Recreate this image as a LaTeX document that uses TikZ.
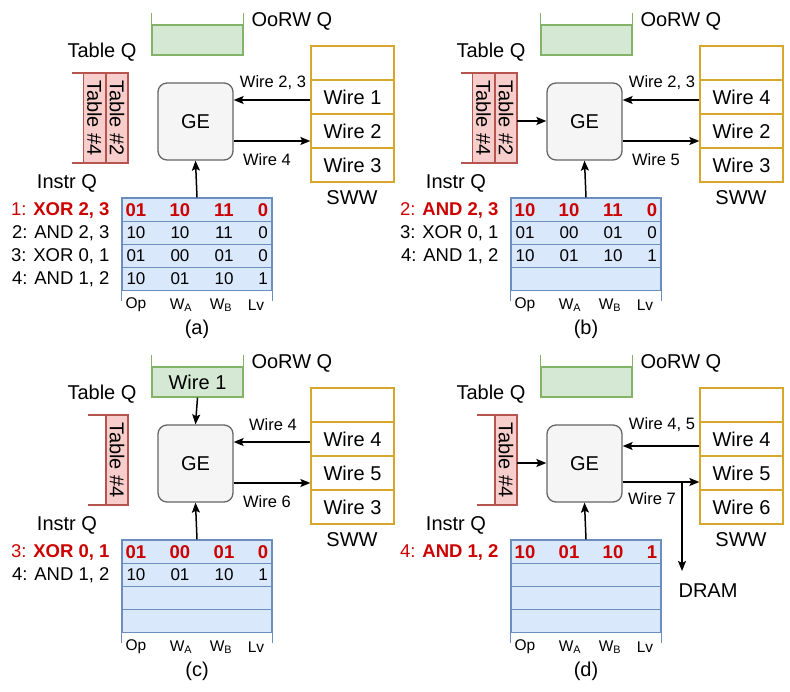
\documentclass[tikz,border=0pt]{standalone}
\usepackage{fontspec}
\setmainfont{Liberation Sans}
\usetikzlibrary{calc,arrows.meta}

\definecolor{hlred}{HTML}{CC0000}
\definecolor{oorwfill}{HTML}{D5E8D4}
\definecolor{oorwline}{HTML}{82B366}
\definecolor{tblfill}{HTML}{F8CECC}
\definecolor{tblline}{HTML}{B85450}
\definecolor{instrfill}{HTML}{DAE8FC}
\definecolor{instrline}{HTML}{6C8EBF}
\definecolor{swwline}{HTML}{D6A72A}

\newcommand{\instrvals}[7]{% name, y, op, wa, wb, lv, style
\node[val,#7] (#1op) at (136,#2) {#3};
\node[val,#7] (#1wa) at (180,#2) {#4};
\node[val,#7] (#1wb) at (224,#2) {#5};
\node[val,#7] (#1lv) at (263,#2) {#6};
}

\newcommand{\panelframe}[4]{% caption, sww1, sww2, sww3
\node[oorw] (oorw) at (197.5,40) {};
\draw[oorwline,line width=1.3pt] (oorw.north west) -- ++(0,-11);
\draw[oorwline,line width=1.3pt] (oorw.north east) -- ++(0,-11);
\node[big,anchor=west] (oorwq) at (248,21) {OoRW Q};
\node[big] (tblq) at (102,52) {Table Q};
\node[ge] (ge) at (195.5,121.5) {GE};
\foreach \i/\t in {0/{},1/{#2},2/{#3},3/{#4}}
  \node[sww] (s\i) at (352.5,63+34*\i) {\t};
\node[big] (swwq) at (352,198) {SWW};
\node[big] (instrq) at (67,183) {Instr Q};
\foreach \r in {0,...,3}
  \node[row] (i\r) at (197,209.6+23.2*\r) {};
\draw[instrline,line width=1.3pt] (i3.south west) -- ++(0,10);
\draw[instrline,line width=1.3pt] (i3.south east) -- ++(0,10);
\node[col] (cop) at (136,305) {Op};
\node[col] (cwa) at (181,305) {W\textsubscript{A}};
\node[col] (cwb) at (221,305) {W\textsubscript{B}};
\node[col] (clv) at (256,305) {Lv};
\node[big] (cap) at (197,329) {#1};
\draw[arr] (i0.north) -- (ge.south);
}

\begin{document}
\begin{tikzpicture}[x=1pt,y=-1pt]
%styles
\tikzset{
  big/.style={font=\fontsize{20}{22}\selectfont},
  small/.style={font=\fontsize{16.5}{18}\selectfont},
  lst/.style={font=\fontsize{18.5}{20}\selectfont,anchor=east},
  val/.style={font=\fontsize{17}{19}\selectfont},
  col/.style={font=\fontsize{15.5}{17}\selectfont},
  hot/.style={text=hlred,font=\fontsize{18.5}{20}\selectfont\bfseries},
  oorw/.style={draw=oorwline,fill=oorwfill,line width=1.3pt,minimum width=91pt,minimum height=30pt,inner sep=0pt,big},
  tbl/.style={draw=tblline,fill=tblfill,line width=1.3pt,rotate=-90,minimum width=90pt,minimum height=22pt,inner sep=0pt,big},
  bracket/.style={draw=tblline,line width=1.3pt},
  ge/.style={draw=black!60,fill=black!4,line width=1.3pt,rounded corners=9pt,minimum width=75pt,minimum height=77pt,big},
  sww/.style={draw=swwline,line width=1.3pt,minimum width=83pt,minimum height=34pt,big},
  row/.style={draw=instrline,fill=instrfill,line width=1.3pt,minimum width=150pt,minimum height=23.2pt,inner sep=0pt},
  arr/.style={-{Stealth[length=10pt,width=8pt,inset=2pt]},line width=1.5pt},
}
\useasboundingbox (0,0) rectangle (790,692);

%(a)
\begin{scope}[shift={(0,0)}]
\panelframe{(a)}{Wire 1}{Wire 2}{Wire 3}
\node[tbl] (t4) at (94.5,118) {Table \#4};
\node[tbl] (t2) at (117,118) {Table \#2};
\draw[bracket] (72,73) -- (83,73);
\draw[bracket] (72,163) -- (83,163);
\draw[arr] (s1.west |- 0,100) -- (ge.east |- 0,100);
\draw[arr] (ge.east |- 0,141) -- (s2.west |- 0,141);
\node[small] (w23) at (273,83) {Wire 2, 3};
\node[small] (w4) at (267,160) {Wire 4};
\node[lst] (l1) at (113,210) {\textcolor{hlred}{1:} \textcolor{hlred}{\bfseries XOR 2, 3}};
\node[lst] (l2) at (113,233) {2: AND 2, 3};
\node[lst] (l3) at (113,256) {3: XOR 0, 1};
\node[lst] (l4) at (113,279) {4: AND 1, 2};
\instrvals{v1}{210}{01}{10}{11}{0}{hot}
\instrvals{v2}{233}{10}{10}{11}{0}{}
\instrvals{v3}{256}{01}{00}{01}{0}{}
\instrvals{v4}{279}{10}{01}{10}{1}{}
\end{scope}

%(b)
\begin{scope}[shift={(389,0)}]
\panelframe{(b)}{Wire 4}{Wire 2}{Wire 3}
\node[tbl] (t4) at (94.5,118) {Table \#4};
\node[tbl] (t2) at (117,118) {Table \#2};
\draw[bracket] (72,73) -- (83,73);
\draw[bracket] (72,163) -- (83,163);
\coordinate (tout) at (128,121);
\draw[arr] (tout) -- (ge.west |- tout);
\draw[arr] (s1.west |- 0,100) -- (ge.east |- 0,100);
\draw[arr] (ge.east |- 0,141) -- (s2.west |- 0,141);
\node[small] (w23) at (273,83) {Wire 2, 3};
\node[small] (w5) at (267,160) {Wire 5};
\node[lst] (l2) at (113,210) {\textcolor{hlred}{2:} \textcolor{hlred}{\bfseries AND 2, 3}};
\node[lst] (l3) at (113,233) {3: XOR 0, 1};
\node[lst] (l4) at (113,256) {4: AND 1, 2};
\instrvals{v2}{210}{10}{10}{11}{0}{hot}
\instrvals{v3}{233}{01}{00}{01}{0}{}
\instrvals{v4}{256}{10}{01}{10}{1}{}
\end{scope}

%(c)
\begin{scope}[shift={(0,342)}]
\panelframe{(c)}{Wire 4}{Wire 5}{Wire 3}
\node[big] (ow1) at (oorw) {Wire 1};
\node[tbl] (t4) at (117,118) {Table \#4};
\draw[bracket] (88,73) -- (106,73);
\draw[bracket] (88,163) -- (106,163);
\draw[arr] (oorw.south) -- (ge.north);
\draw[arr] (s1.west |- 0,100) -- (ge.east |- 0,100);
\draw[arr] (ge.east |- 0,141) -- (s2.west |- 0,141);
\node[small] (w4) at (273,83) {Wire 4};
\node[small] (w6) at (267,160) {Wire 6};
\node[lst] (l3) at (113,210) {\textcolor{hlred}{3:} \textcolor{hlred}{\bfseries XOR 0, 1}};
\node[lst] (l4) at (113,233) {4: AND 1, 2};
\instrvals{v3}{210}{01}{00}{01}{0}{hot}
\instrvals{v4}{233}{10}{01}{10}{1}{}
\end{scope}

%(d)
\begin{scope}[shift={(389,342)}]
\panelframe{(d)}{Wire 4}{Wire 5}{Wire 6}
\node[tbl] (t4) at (117,118) {Table \#4};
\draw[bracket] (88,73) -- (106,73);
\draw[bracket] (88,163) -- (106,163);
\coordinate (tout) at (128,121);
\draw[arr] (tout) -- (ge.west |- tout);
\draw[arr] (s1.west |- 0,104) -- (ge.east |- 0,104);
\draw[arr] (ge.east |- 0,140) -- (s2.west |- 0,140);
\coordinate (fork) at (293,140);
\coordinate (dramin) at (293,229);
\node[big] (dram) at (319,249) {DRAM};
\draw[arr] (fork) -- (dramin);
\node[small] (w45) at (273,83) {Wire 4, 5};
\node[small] (w7) at (263,157) {Wire 7};
\node[lst] (l4) at (113,210) {\textcolor{hlred}{4:} \textcolor{hlred}{\bfseries AND 1, 2}};
\instrvals{v4}{210}{10}{01}{10}{1}{hot}
\end{scope}
\end{tikzpicture}
\end{document}
